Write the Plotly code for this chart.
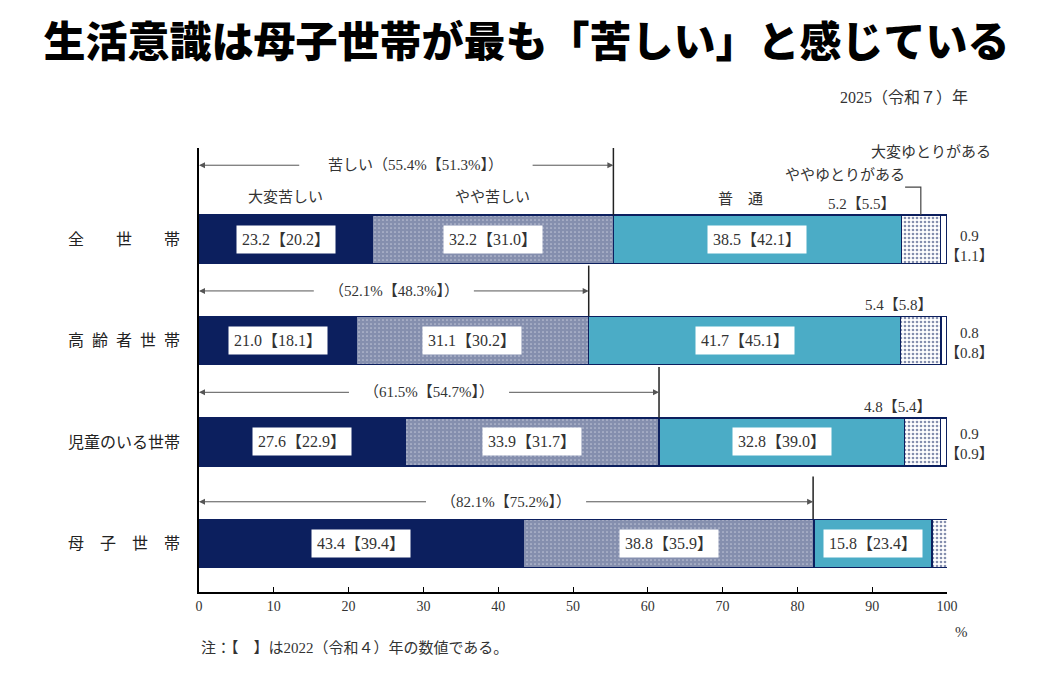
import plotly.graph_objects as go

# -- データ ---------------------------------------------------------------
categories = ["全　　世　　帯", "高\u2002齢\u2002者\u2002世\u2002帯", "児童のいる世帯", "母　子　世　帯"]
row_pos = [0, 1, 2, 3]

taihen_kurushii = [23.2, 21.0, 27.6, 43.4]
taihen_kurushii_prev = [20.2, 18.1, 22.9, 39.4]
yaya_kurushii = [32.2, 31.1, 33.9, 38.8]
yaya_kurushii_prev = [31.0, 30.2, 31.7, 35.9]
futsu = [38.5, 41.7, 32.8, 15.8]
futsu_prev = [42.1, 45.1, 39.0, 23.4]
yaya_yutori = [5.2, 5.4, 4.8, 2.1]
yaya_yutori_prev = [5.5, 5.8, 5.4, 1.4]
taihen_yutori = [0.9, 0.8, 0.9, 0.0]
taihen_yutori_prev = [1.1, 0.8, 0.9, None]
kurushii_total = [55.4, 52.1, 61.5, 82.1]
kurushii_total_prev = [51.3, 48.3, 54.7, 75.2]

x_ticks = [0, 10, 20, 30, 40, 50, 60, 70, 80, 90, 100]

# -- 見た目 ---------------------------------------------------------------
NAVY = "#0c1f5e"
TEAL = "#4bacc6"
TXT = "#333333"
FONT = "Liberation Serif, Noto Sans CJK JP"
JP = "Noto Sans CJK JP"

fig = go.Figure()

series = [
    ("大変苦しい", taihen_kurushii, dict(color=NAVY)),
    ("やや苦しい", yaya_kurushii, dict(color="white", pattern=dict(shape=".", size=4, solidity=0.85, fgcolor=NAVY, bgcolor="white"))),
    ("普通", futsu, dict(color=TEAL)),
    ("ややゆとりがある", yaya_yutori, dict(color="white", pattern=dict(shape=".", size=4, solidity=0.35, fgcolor=NAVY, bgcolor="white"))),
    ("大変ゆとりがある", taihen_yutori, dict(color="white")),
]

for name, vals, mk in series:
    mk = dict(mk, line=dict(color=NAVY, width=1.5))
    fig.add_trace(go.Bar(
        x=vals, y=row_pos, orientation="h", name=name,
        marker=mk, width=0.475, hoverinfo="skip",
    ))

annotations = []
shapes = []

# -- セグメント内の白ボックスラベル -------------------------------------
for i in row_pos:
    starts = [0, taihen_kurushii[i], taihen_kurushii[i] + yaya_kurushii[i]]
    vals = [taihen_kurushii[i], yaya_kurushii[i], futsu[i]]
    prevs = [taihen_kurushii_prev[i], yaya_kurushii_prev[i], futsu_prev[i]]
    for s, v, p in zip(starts, vals, prevs):
        annotations.append(dict(
            x=s + v / 2, y=i, text=f"{v:.1f}【{p:.1f}】", showarrow=False,
            bgcolor="white", borderpad=5, font=dict(size=16, color=TXT, family=FONT),
        ))

    # ややゆとりがある（バーの上）
    yy_start = taihen_kurushii[i] + yaya_kurushii[i] + futsu[i]
    yy_end = yy_start + yaya_yutori[i]
    annotations.append(dict(
        x=yy_start if i == 0 else yy_end, y=i - 0.24, xanchor="right", yanchor="bottom",
        xshift=-3 if i == 0 else -6, yshift=1,
        text=f"{yaya_yutori[i]:.1f}【{yaya_yutori_prev[i]:.1f}】", showarrow=False,
        font=dict(size=15, color=TXT, family=FONT),
    ))

    # 大変ゆとりがある（バーの右）
    if taihen_yutori[i] > 0:
        annotations.append(dict(
            x=1.03, xref="paper", xanchor="center", y=i, yanchor="middle",
            yshift=-7 if i == 0 else -2,
            text=f"{taihen_yutori[i]:.1f}<br>【{taihen_yutori_prev[i]:.1f}】",
            showarrow=False, font=dict(size=15, color=TXT, family=FONT),
        ))

    # 苦しい 合計の矢印
    total = kurushii_total[i]
    arrow_y = -0.73 if i == 0 else i - 0.49 + (0.08 if i == 3 else 0)
    half_gap = 15.4 if i == 0 else 10.5
    mid = total / 2 + (1.3 if i == 0 else 0)
    label = f"（{total:.1f}%【{kurushii_total_prev[i]:.1f}%】）"
    if i == 0:
        label = "苦しい" + label
    annotations.append(dict(
        x=mid, y=arrow_y, text=label, showarrow=False,
        font=dict(size=15, color=TXT, family=FONT),
    ))
    for tip, tail in ((0, mid - half_gap), (total, mid + half_gap)):
        annotations.append(dict(
            x=tip, y=arrow_y, ax=tail, ay=arrow_y, axref="x", ayref="y",
            text="", showarrow=True, arrowhead=2, arrowsize=1.2, arrowwidth=1,
            arrowcolor="#555555", standoff=0,
        ))
    shapes.append(dict(
        type="line", xref="x", yref="y", x0=total, x1=total,
        y0=-0.9 if i == 0 else arrow_y - 0.25, y1=i - 0.24,
        line=dict(color="#222222", width=1.5),
    ))

# -- 上部の区分ラベル ---------------------------------------------------
annotations += [
    dict(x=taihen_kurushii[0] / 2, y=-0.43, text="大変苦しい", showarrow=False,
         font=dict(size=15, color=TXT, family=JP)),
    dict(x=taihen_kurushii[0] + yaya_kurushii[0] / 2, y=-0.43, text="やや苦しい", showarrow=False,
         font=dict(size=15, color=TXT, family=JP)),
    dict(x=kurushii_total[0] + futsu[0] / 2, y=-0.41, xshift=-17, text="普　通", showarrow=False,
         font=dict(size=15, color=TXT, family=JP)),
    dict(x=94.7, y=-0.65, xanchor="right", text="ややゆとりがある", showarrow=False,
         font=dict(size=15, color=TXT, family=JP)),
    dict(x=97.9, y=-0.88, text="大変ゆとりがある", showarrow=False,
         font=dict(size=15, color=TXT, family=JP)),
]
yy_mid = kurushii_total[0] + futsu[0] + yaya_yutori[0] / 2
shapes += [
    dict(type="path", xref="x", yref="y",
         path=f"M 94.4 -0.515 L {yy_mid} -0.515 L {yy_mid} -0.24",
         line=dict(color="#444444", width=1.2)),
    dict(type="path", xref="x", yref="y",
         path="M 100.8 -0.78 L 100.8 -0.16 L 100.0 -0.16",
         line=dict(color="#444444", width=1.2)),
]

# -- 注記など -----------------------------------------------------------
annotations += [
    dict(xref="paper", yref="paper", x=1.031, y=1.113, xanchor="right", yanchor="middle",
         text="2025（令和７）年", showarrow=False, font=dict(size=16, color=TXT, family=FONT)),
    dict(xref="paper", yref="paper", x=1.031, y=-0.09, yanchor="middle", text="%", showarrow=False,
         font=dict(size=15, color=TXT, family=FONT)),
    dict(xref="paper", yref="paper", x=0.0, y=-0.126, xanchor="left", yanchor="middle",
         text="注：【　】は2022（令和４）年の数値である。", showarrow=False,
         font=dict(size=15, color=TXT, family=FONT)),
]

# ページ本体の余白(8px)ぶんを差し引いたサイズ
fig.update_layout(
    width=1037, height=666,
    barmode="stack", bargap=0.5, showlegend=False,
    plot_bgcolor="white", paper_bgcolor="white",
    margin=dict(l=191, r=98, t=140, b=82),
    title=dict(
        text="生活意識は母子世帯が最も「苦しい」と感じている",
        x=0.5, xref="container", xanchor="center", y=0.949, yanchor="middle",
        font=dict(size=42, family=JP, weight=900, color="black"),
    ),
    xaxis=dict(
        range=[0, 100], tickvals=x_ticks, showgrid=False, zeroline=False,
        showline=True, linecolor="black", linewidth=1.5,
        ticks="inside", ticklen=5, tickcolor="black",
        tickfont=dict(size=14, color=TXT, family=FONT),
    ),
    yaxis=dict(
        range=[3.48, -0.9], tickvals=row_pos, ticktext=categories,
        showgrid=False, zeroline=False, showline=True, linecolor="black", linewidth=1.5,
        ticks="", ticklabelstandoff=14,
        tickfont=dict(size=16, color="#222222", family=JP),
    ),
    annotations=annotations,
    shapes=shapes,
)

fig.write_html("out.html")
